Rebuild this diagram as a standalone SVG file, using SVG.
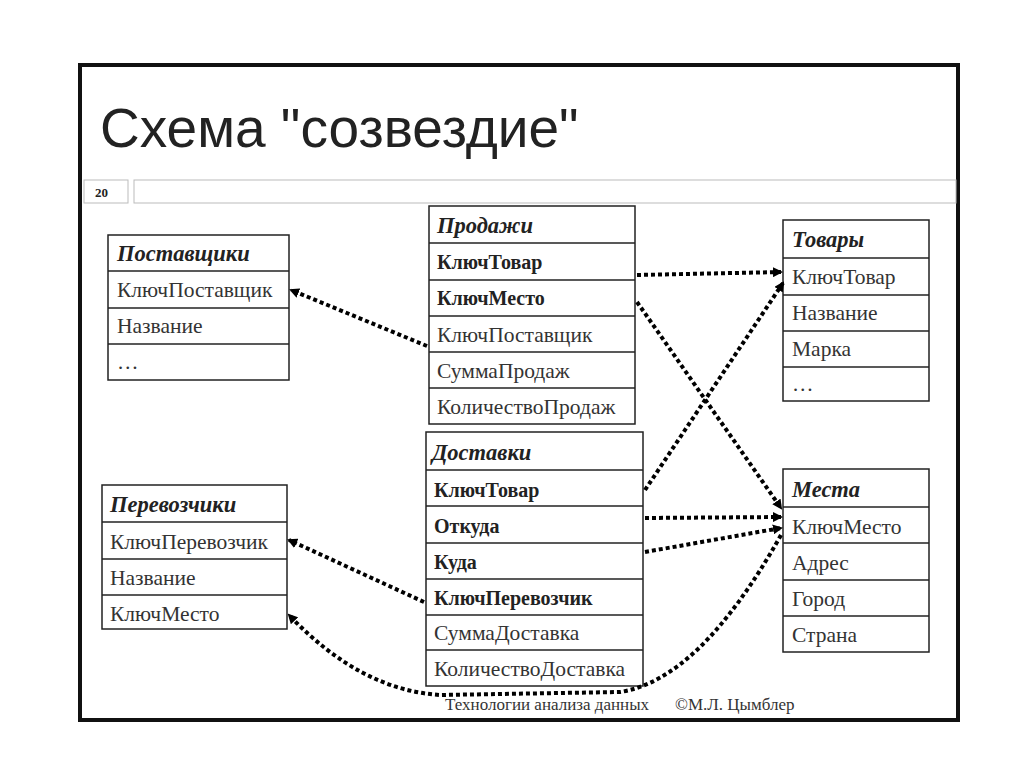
<svg xmlns="http://www.w3.org/2000/svg" width="1024" height="767" viewBox="0 0 1024 767">
<defs>
<marker id="ah" markerWidth="10" markerHeight="10" refX="8" refY="5" orient="auto" markerUnits="userSpaceOnUse"><path d="M0,0 L10,5 L0,10 z" fill="#000"/></marker>
<style>
.c{fill:none;stroke:#000;stroke-width:4;stroke-dasharray:4 3}
.t rect{fill:#fff;stroke:#222;stroke-width:1.5}
.t line{stroke:#222;stroke-width:1.5}
.h{font-family:"Liberation Serif",serif;font-size:22.5px;font-weight:bold;font-style:italic;fill:#222}
.b{font-family:"Liberation Serif",serif;font-size:20px;font-weight:bold;fill:#222}
.n{font-family:"Liberation Serif",serif;font-size:21.5px;fill:#333}
</style>
</defs>
<rect width="1024" height="767" fill="#fff"/>
<rect x="80" y="65" width="878" height="655" fill="#fff" stroke="#111" stroke-width="4"/>
<text x="100" y="147" font-family="Liberation Sans,sans-serif" font-size="55" fill="#222">Схема "созвездие"</text>
<rect x="84" y="180" width="44" height="23" fill="#fff" stroke="#bbb"/>
<text x="95" y="197" font-family="Liberation Serif,serif" font-size="13" font-weight="bold" fill="#222">20</text>
<rect x="134" y="180" width="822" height="23" fill="#fff" stroke="#bbb"/>

<g id="postavshchiki" class="t">
<rect x="108" y="235" width="181" height="145"/>
<line x1="108" y1="271" x2="289" y2="271"/><line x1="108" y1="308" x2="289" y2="308"/><line x1="108" y1="344" x2="289" y2="344"/>
<text class="h" x="117" y="261">Поставщики</text>
<text class="n" x="117" y="297">КлючПоставщик</text>
<text class="n" x="117" y="333">Название</text>
<text class="n" x="117" y="369">…</text>
</g>
<g id="prodazhi" class="t">
<rect x="429" y="206" width="206" height="218"/>
<line x1="429" y1="243" x2="635" y2="243"/><line x1="429" y1="280" x2="635" y2="280"/><line x1="429" y1="316" x2="635" y2="316"/><line x1="429" y1="352" x2="635" y2="352"/><line x1="429" y1="388" x2="635" y2="388"/>
<text class="h" x="437" y="233">Продажи</text>
<text class="b" x="437" y="269">КлючТовар</text>
<text class="b" x="437" y="305">КлючМесто</text>
<text class="n" x="437" y="342">КлючПоставщик</text>
<text class="n" x="437" y="378">СуммаПродаж</text>
<text class="n" x="437" y="414">КоличествоПродаж</text>
</g>
<g id="tovary" class="t">
<rect x="783" y="220" width="146" height="181"/>
<line x1="783" y1="258" x2="929" y2="258"/><line x1="783" y1="295" x2="929" y2="295"/><line x1="783" y1="331" x2="929" y2="331"/><line x1="783" y1="367" x2="929" y2="367"/>
<text class="h" x="792" y="247">Товары</text>
<text class="n" x="792" y="284">КлючТовар</text>
<text class="n" x="792" y="320">Название</text>
<text class="n" x="792" y="356">Марка</text>
<text class="n" x="792" y="391">…</text>
</g>
<g id="perevozchiki" class="t">
<rect x="102" y="485" width="185" height="144"/>
<line x1="102" y1="522" x2="287" y2="522"/><line x1="102" y1="559" x2="287" y2="559"/><line x1="102" y1="595" x2="287" y2="595"/>
<text class="h" x="110" y="512">Перевозчики</text>
<text class="n" x="110" y="549">КлючПеревозчик</text>
<text class="n" x="110" y="585">Название</text>
<text class="n" x="110" y="621">КлючМесто</text>
</g>
<g id="dostavki" class="t">
<rect x="426" y="432" width="217" height="254"/>
<line x1="426" y1="470" x2="643" y2="470"/><line x1="426" y1="506" x2="643" y2="506"/><line x1="426" y1="543" x2="643" y2="543"/><line x1="426" y1="579" x2="643" y2="579"/><line x1="426" y1="615" x2="643" y2="615"/><line x1="426" y1="650" x2="643" y2="650"/>
<text class="h" x="432" y="460">Доставки</text>
<text class="b" x="434" y="497">КлючТовар</text>
<text class="b" x="434" y="533">Откуда</text>
<text class="b" x="434" y="569">Куда</text>
<text class="b" x="434" y="605">КлючПеревозчик</text>
<text class="n" x="434" y="640">СуммаДоставка</text>
<text class="n" x="434" y="676">КоличествоДоставка</text>
</g>
<g id="mesta" class="t">
<rect x="783" y="469" width="146" height="183"/>
<line x1="783" y1="507" x2="929" y2="507"/><line x1="783" y1="543" x2="929" y2="543"/><line x1="783" y1="580" x2="929" y2="580"/><line x1="783" y1="616" x2="929" y2="616"/>
<text class="h" x="792" y="497">Места</text>
<text class="n" x="792" y="534">КлючМесто</text>
<text class="n" x="792" y="570">Адрес</text>
<text class="n" x="792" y="606">Город</text>
<text class="n" x="792" y="642">Страна</text>
</g>

<g id="connectors">
<path class="c" d="M427,346 L291,290" marker-end="url(#ah)"/>
<path class="c" d="M637,275 L781,272" marker-end="url(#ah)"/>
<path class="c" d="M637,302 L781,508" marker-end="url(#ah)"/>
<path class="c" d="M645,490 L783,283" marker-end="url(#ah)"/>
<path class="c" d="M645,518 L781,517" marker-end="url(#ah)"/>
<path class="c" d="M645,552 L781,528" marker-end="url(#ah)"/>
<path class="c" d="M424,602 L289,540" marker-end="url(#ah)"/>
<path class="c" d="M781,535 Q700,680 620,692 L440,695 Q360,690 289,615" marker-end="url(#ah)"/>
</g>
<text x="445" y="710" font-family="Liberation Serif,serif" font-size="17" fill="#333">Технологии анализа данных</text>
<text x="675" y="710" font-family="Liberation Serif,serif" font-size="17" fill="#333">©М.Л. Цымблер</text>
</svg>
